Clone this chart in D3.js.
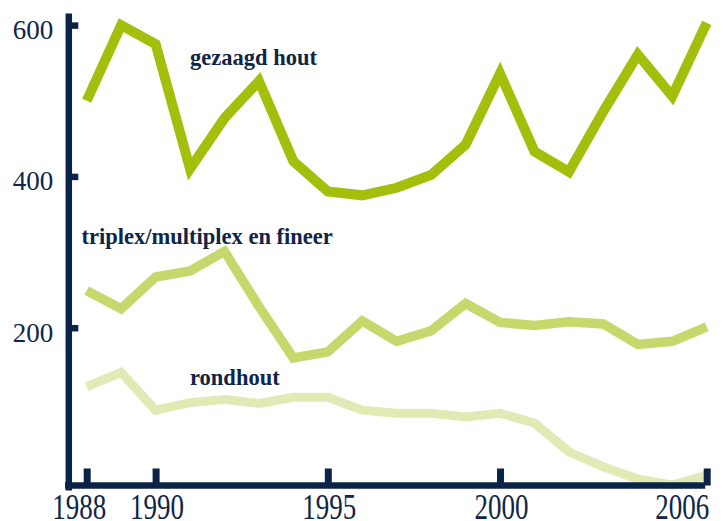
<!DOCTYPE html>
<html>
<head>
<meta charset="utf-8">
<script src="https://cdn.jsdelivr.net/npm/d3@7"></script>
<style>
  html, body { margin: 0; padding: 0; background: #fff; }
  svg { display: block; }
  .tick-label { font-family: "Liberation Serif", serif; font-size: 27px; fill: #0f2548; }
  .series-label { font-family: "Liberation Serif", serif; font-size: 22.5px; font-weight: 700; fill: #0f2548; }
</style>
</head>
<body>
<div id="chart"></div>
<script>
// years on the x axis
const years = d3.range(1988, 2007);

// values (x 1000)
const gezaagdHout = [500, 600, 575, 410, 477, 526, 420, 380, 375, 385, 402, 442, 536, 433, 406, 486, 561, 506, 603];
const triplex = [249, 225, 267, 275, 301, 228, 160, 168, 209, 182, 196, 232, 207, 203, 208, 205, 178, 182, 201];
const rondhout = [122, 141, 91, 101, 105, 100, 108, 108, 91, 87, 87, 82, 87, 74, 36, 16, 0, -8, 5];

const yTicks = [200, 400, 600];
const xTicks = [1988, 1990, 1995, 2000, 2006];

const series = [
  { name: 'rondhout', values: rondhout, color: '#e1eab5', width: 9 },
  { name: 'triplex/multiplex en fineer', values: triplex, color: '#c6d86c', width: 9.5 },
  { name: 'gezaagd hout', values: gezaagdHout, color: '#a3bf0b', width: 10 },
];

// label anchors (year, value) for the series names
const labels = [
  { text: 'gezaagd hout', year: 1991, value: 547 },
  { text: 'triplex/multiplex en fineer', year: 1987.85, value: 311 },
  { text: 'rondhout', year: 1991, value: 124 },
];

const width = 723;
const height = 521;
const axisColor = '#0b2346';

const x = d3.scaleLinear().domain([1988, 2006]).range([86.7, 706.7]);
const y = d3.scaleLinear().domain([-14.5, 616]).range([490, 13]);
const axisX = 68.3;
const axisY = 485.5;

const svg = d3
  .select('#chart')
  .append('svg')
  .attr('width', width)
  .attr('height', height)
  .attr('viewBox', [0, 0, width, height].join(' '));

// lines
const line = d3
  .line()
  .x((d, i) => x(years[i]))
  .y((d) => y(d));

svg
  .append('g')
  .selectAll('path')
  .data(series)
  .join('path')
  .attr('d', (s) => line(s.values))
  .attr('fill', 'none')
  .attr('stroke', (s) => s.color)
  .attr('stroke-width', (s) => s.width)
  .attr('stroke-linejoin', 'miter')
  .attr('stroke-linecap', 'butt');

// y axis
const yAxis = svg
  .append('g')
  .attr('transform', `translate(${axisX},0)`)
  .call(d3.axisLeft(y).tickValues(yTicks).tickSizeInner(-10).tickSizeOuter(0).tickPadding(15));

yAxis.attr('font-size', null).attr('font-family', null);
yAxis.select('.domain').attr('stroke', axisColor).attr('stroke-width', 6.5);
yAxis.selectAll('.tick line').attr('stroke', axisColor).attr('stroke-width', 6.5);
yAxis.selectAll('.tick text').attr('class', 'tick-label').attr('dy', '0.5em');

// x axis
const xAxis = svg
  .append('g')
  .attr('transform', `translate(0,${axisY})`)
  .call(d3.axisBottom(x).tickValues(xTicks).tickFormat(d3.format('d')).tickSizeInner(-17).tickSizeOuter(0));

xAxis.attr('font-size', null).attr('font-family', null);
xAxis
  .select('.domain')
  .attr('d', `M${axisX - 3.25},0H${x(2006) - 1.5}`)
  .attr('stroke', axisColor)
  .attr('stroke-width', 6.5);
xAxis.selectAll('.tick line').attr('stroke', axisColor).attr('stroke-width', 7);
xAxis
  .selectAll('.tick text')
  .attr('class', 'tick-label')
  .attr('y', 25.2)
  .attr('dy', 0)
  .attr('transform', 'scale(1,1.33)')
  .attr('text-anchor', (d) => (d === 2006 ? 'end' : 'middle'))
  .attr('dx', (d) => (d === 1988 ? -8 : d === 2006 ? 2 : 1));

// series names
svg
  .append('g')
  .selectAll('text')
  .data(labels)
  .join('text')
  .attr('class', 'series-label')
  .attr('x', (d) => x(d.year))
  .attr('y', (d) => y(d.value))
  .text((d) => d.text);
</script>
</body>
</html>
